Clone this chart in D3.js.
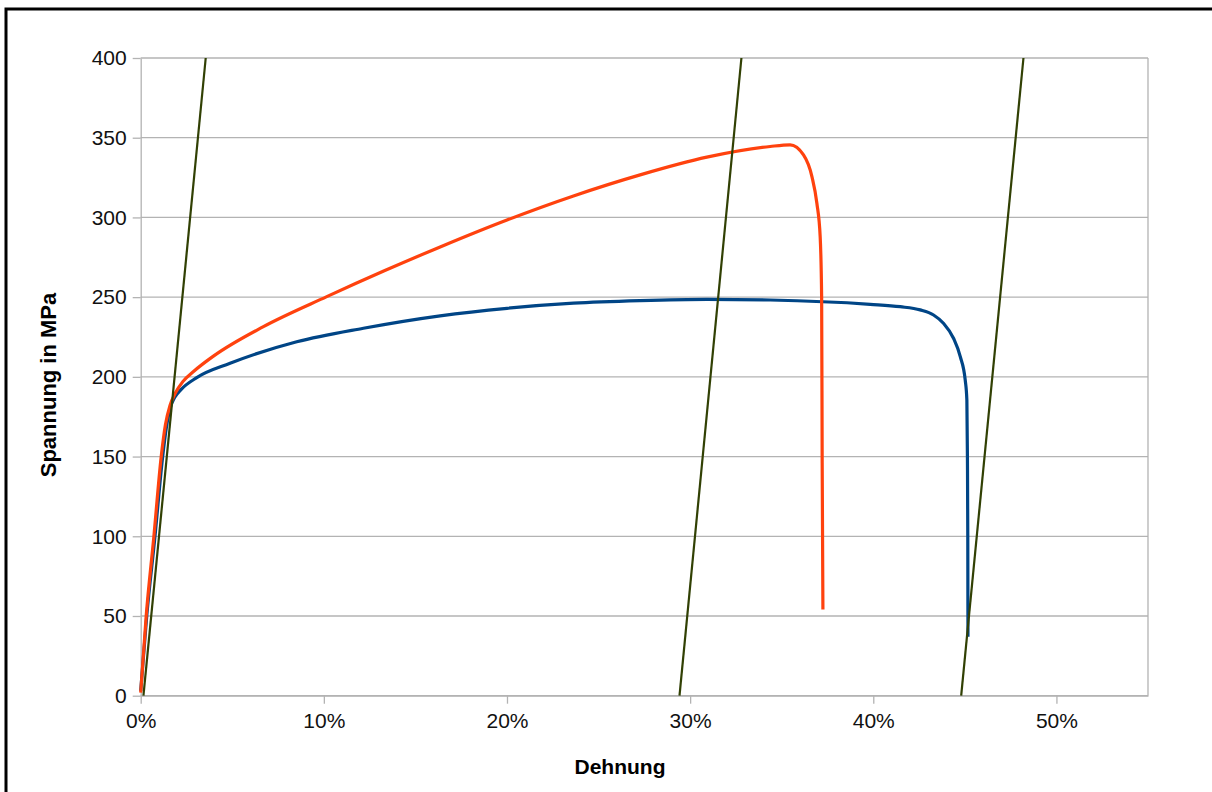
<!DOCTYPE html>
<html>
<head>
<meta charset="utf-8">
<script src="https://cdn.jsdelivr.net/npm/d3@7"></script>
<style>
    body { margin: 0; background: #fff; }
    svg { display: block; font-family: "Liberation Sans", Arial, sans-serif; }
</style>
</head>
<body>
<div id="chart"></div>
<script>
// strain in %, stress in MPa
const blueStrain = [0, 0.33, 0.78, 1.2, 1.4, 1.6, 1.85, 2.2, 3.06, 4.88, 8.52, 12.16, 16.35, 20.0, 23.63, 27.27, 30.91, 34.37, 39.83, 41.47, 42.56, 43.29, 43.83, 44.38, 44.75, 45.02, 45.11, 45.14, 45.16, 45.17];
const blueStress = [3, 50, 100, 150, 168, 180, 187, 192, 199.5, 208.5, 222, 230.5, 238.3, 243, 246.2, 247.8, 248.6, 248.2, 245.5, 244, 242, 238.8, 233.6, 224.2, 212.7, 198, 185.5, 150, 100, 37];

const orangeStrain = [0, 0.3, 0.72, 1.12, 1.35, 1.6, 1.9, 2.3, 2.9, 3.97, 6.7, 10.16, 13.3, 16.35, 20.0, 23.63, 27.27, 30.91, 34.37, 35.46, 36.19, 36.65, 36.92, 37.1, 37.18, 37.21, 37.25];
const orangeStress = [2, 50, 100, 150, 170, 182, 190, 197, 203.5, 213, 231.5, 250.3, 266.5, 281.5, 298.4, 313.5, 326.7, 337.8, 344.5, 345.5, 339.2, 325.6, 308.9, 288, 250, 146, 54];

// straight modulus lines: [strain at 0 MPa, strain at 400 MPa]
const modulusLines = [[0.15, 3.55], [29.42, 32.8], [44.8, 48.2]];

const yTicks = [0, 50, 100, 150, 200, 250, 300, 350, 400];
const xTicks = [0, 10, 20, 30, 40, 50];

(function () {
    const width = 1212, height = 792;
    const left = 140.7, right = 1148, top = 58, bottom = 695.7;

    const svg = d3.select('#chart').append('svg')
        .attr('width', width)
        .attr('height', height);

    svg.append('rect').attr('width', width).attr('height', height).attr('fill', '#fff');

    // frame of the original screenshot
    svg.append('rect')
        .attr('x', 6).attr('y', 9)
        .attr('width', 1400).attr('height', 1000)
        .attr('fill', 'none')
        .attr('stroke', '#000')
        .attr('stroke-width', 3);

    const x = d3.scaleLinear().domain([0, 55]).range([left, right]);
    const y = d3.scaleLinear().domain([0, 400]).range([bottom, top]);

    // horizontal grid
    svg.append('g')
        .selectAll('line')
        .data(yTicks)
        .join('line')
        .attr('x1', left).attr('x2', right)
        .attr('y1', d => y(d)).attr('y2', d => y(d))
        .attr('stroke', '#b3b3b3')
        .attr('stroke-width', 1.3);

    // right border of plot
    svg.append('line')
        .attr('x1', right).attr('x2', right)
        .attr('y1', top).attr('y2', bottom)
        .attr('stroke', '#b3b3b3')
        .attr('stroke-width', 1.3);

    const yAxis = svg.append('g')
        .attr('transform', `translate(${left},0)`)
        .call(d3.axisLeft(y).tickValues(yTicks).tickSize(8).tickSizeOuter(0).tickPadding(6));

    const xAxis = svg.append('g')
        .attr('transform', `translate(0,${bottom})`)
        .call(d3.axisBottom(x).tickValues(xTicks).tickSize(8).tickSizeOuter(0).tickPadding(9).tickFormat(d => d + '%'));

    [yAxis, xAxis].forEach(a => {
        a.select('.domain').attr('stroke', '#b3b3b3').attr('stroke-width', 1.3);
        a.selectAll('.tick line').attr('stroke', '#b3b3b3').attr('stroke-width', 1.3);
        a.selectAll('.tick text')
            .attr('fill', '#111')
            .style('font-size', '21px')
            .style('font-family', '"Liberation Sans", Arial, sans-serif');
    });

    const line = d3.line()
        .x(d => x(d[0]))
        .y(d => y(d[1]))
        .curve(d3.curveMonotoneX);

    const blue = blueStrain.map((s, i) => [s, blueStress[i]]);
    const orange = orangeStrain.map((s, i) => [s, orangeStress[i]]);

    svg.append('path')
        .datum(blue)
        .attr('d', line)
        .attr('fill', 'none')
        .attr('stroke', '#004586')
        .attr('stroke-width', 3.2)
        .attr('stroke-linejoin', 'round');

    svg.append('path')
        .datum(orange)
        .attr('d', line)
        .attr('fill', 'none')
        .attr('stroke', '#ff420e')
        .attr('stroke-width', 3.2)
        .attr('stroke-linejoin', 'round');

    svg.append('g')
        .selectAll('line')
        .data(modulusLines)
        .join('line')
        .attr('x1', d => x(d[0])).attr('y1', y(0))
        .attr('x2', d => x(d[1])).attr('y2', y(400))
        .attr('stroke', '#314004')
        .attr('stroke-width', 2.2);

    // axis titles
    svg.append('text')
        .attr('x', 620).attr('y', 774)
        .attr('text-anchor', 'middle')
        .style('font-size', '21px')
        .style('font-weight', 'bold')
        .text('Dehnung');

    svg.append('text')
        .attr('transform', 'translate(56,385) rotate(-90)')
        .attr('text-anchor', 'middle')
        .style('font-size', '22px')
        .style('font-weight', 'bold')
        .text('Spannung in MPa');
})();
</script>
</body>
</html>
